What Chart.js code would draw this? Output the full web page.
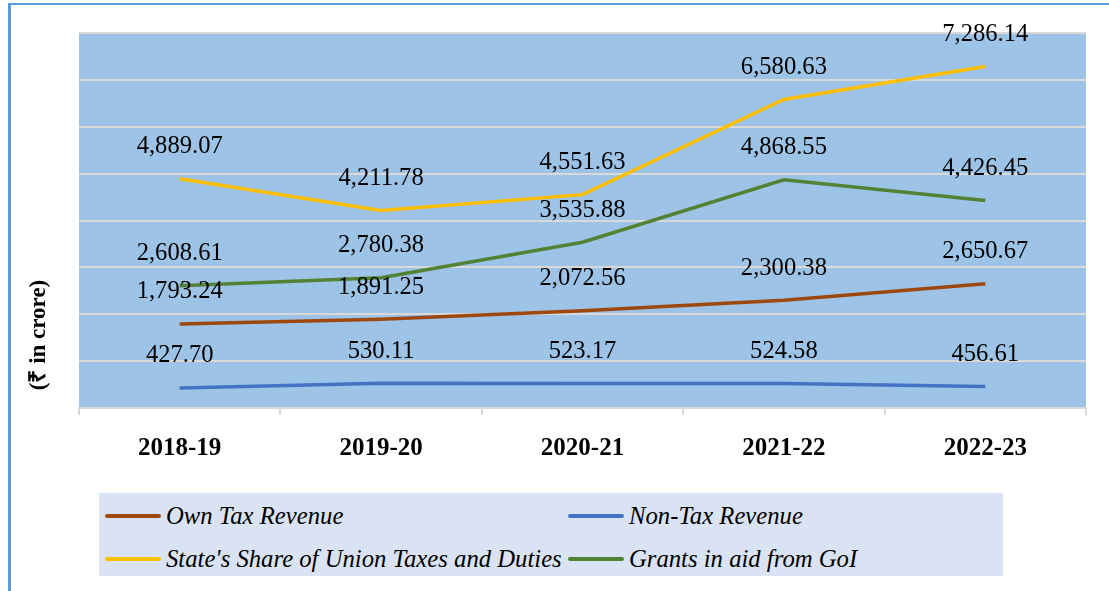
<!DOCTYPE html>
<html>
<head>
<meta charset="utf-8">
<script src="https://cdn.jsdelivr.net/npm/chart.js@4.4.0/dist/chart.umd.min.js"></script>
<style>
  html, body { margin: 0; padding: 0; background: #fff; overflow: hidden; }
  #wrap { position: relative; width: 1109px; height: 591px; }
  #frame {
    position: absolute; left: 8px; top: 3px; width: 1110px; height: 586px;
    border-left: 3px solid #5B9BD5; border-top: 2px solid #5B9BD5;
    border-bottom: 1px solid #9DC3E6;
  }
  #myChart { position: absolute; left: 0; top: 0; }
  #legend {
    position: absolute; left: 99px; top: 493px; width: 904px; height: 83px;
    background: #DAE3F3;
    font-family: "Liberation Serif", "Times New Roman", serif;
    font-style: italic; font-size: 24.7px; color: #000;
  }
  .item { position: absolute; height: 30px; display: flex; align-items: center; white-space: nowrap; }
  .item span.mark { display: inline-block; width: 56px; height: 3.5px; margin-right: 5px; border-radius: 2px; }
</style>
</head>
<body>
<div id="wrap">
  <div id="frame"></div>
  <canvas id="myChart" width="1109" height="591"></canvas>
  <div id="legend"></div>
</div>
<script>
// Años
var years = ['2018-19', '2019-20', '2020-21', '2021-22', '2022-23'];

// Valores (₹ en crore)
var ownTax = [1793.24, 1891.25, 2072.56, 2300.38, 2650.67];
var nonTax = [427.70, 530.11, 523.17, 524.58, 456.61];
var stateShare = [4889.07, 4211.78, 4551.63, 6580.63, 7286.14];
var grants = [2608.61, 2780.38, 3535.88, 4868.55, 4426.45];

var seriesNames = ['Own Tax Revenue', 'Non-Tax Revenue', "State's Share of Union Taxes and Duties", 'Grants in aid from GoI'];
var seriesColors = ['#9E480E', '#4472C4', '#FFC000', '#548235'];

var serif = '"Liberation Serif", "Times New Roman", serif';

function serie(i, data) {
    return {
        label: seriesNames[i],
        data: data,
        borderColor: seriesColors[i],
        backgroundColor: seriesColors[i],
        borderWidth: 3.5,
        pointRadius: 0,
        tension: 0,
        fill: false
    };
}

// Fondo azul del área del gráfico
var fondo = {
    id: 'fondo',
    beforeDraw: function (chart) {
        var a = chart.chartArea, c = chart.ctx;
        c.save();
        c.fillStyle = '#9DC3E6';
        c.fillRect(a.left, a.top, a.right - a.left, a.bottom - a.top);
        c.restore();
    }
};

// Etiquetas de valores sobre cada punto
var etiquetas = {
    id: 'etiquetas',
    afterDatasetsDraw: function (chart) {
        var c = chart.ctx;
        c.save();
        c.font = '24.6px ' + serif;
        c.fillStyle = '#000';
        c.textAlign = 'center';
        c.textBaseline = 'middle';
        chart.data.datasets.forEach(function (ds, i) {
            chart.getDatasetMeta(i).data.forEach(function (pt, j) {
                var txt = ds.data[j].toLocaleString('en-US', { minimumFractionDigits: 2, maximumFractionDigits: 2 });
                c.fillText(txt, pt.x, pt.y - 32);
            });
        });
        c.restore();
    }
};

// Título del eje Y
var tituloY = {
    id: 'tituloY',
    afterDraw: function (chart) {
        var c = chart.ctx;
        c.save();
        c.translate(39, 335);
        c.rotate(-Math.PI / 2);
        c.font = 'bold 23px ' + serif;
        c.fillStyle = '#000';
        c.textAlign = 'center';
        c.textBaseline = 'middle';
        c.fillText('(₹ in crore)', 0, 0);
        c.restore();
    }
};

var ctx = document.getElementById('myChart').getContext('2d');

var config = {
    type: 'line',
    data: {
        labels: years,
        datasets: [serie(0, ownTax), serie(1, nonTax), serie(2, stateShare), serie(3, grants)]
    },
    options: {
        responsive: false,
        animation: false,
        layout: { padding: { left: 0, right: 23, top: 33, bottom: 0 } },
        plugins: {
            legend: { display: false },
            tooltip: { enabled: false }
        },
        scales: {
            x: {
                offset: true,
                grid: { offset: true, drawOnChartArea: false, drawTicks: true, tickLength: 7, color: '#D9D9D9', lineWidth: 2 },
                border: { color: '#D9D9D9', width: 2 },
                ticks: { color: '#000', padding: 19, font: { family: serif, size: 25, weight: 'bold' } },
                afterFit: function (scale) { scale.height = 183; }
            },
            y: {
                min: 0,
                max: 8000,
                ticks: { stepSize: 1000, display: false },
                grid: { color: '#D9D9D9', lineWidth: 2, drawTicks: false },
                border: { display: false },
                afterFit: function (scale) { scale.width = 79; }
            }
        }
    },
    plugins: [fondo, etiquetas, tituloY]
};

var myChart = new Chart(ctx, config);

// Leyenda en dos columnas
var legend = document.getElementById('legend');
var posiciones = [[6, 8], [469, 8], [6, 51], [469, 51]];
myChart.data.datasets.forEach(function (ds, i) {
    var item = document.createElement('div');
    item.className = 'item';
    item.style.left = posiciones[i][0] + 'px';
    item.style.top = posiciones[i][1] + 'px';
    var mark = document.createElement('span');
    mark.className = 'mark';
    mark.style.background = ds.borderColor;
    var txt = document.createElement('span');
    txt.textContent = ds.label;
    item.appendChild(mark);
    item.appendChild(txt);
    legend.appendChild(item);
});
</script>
</body>
</html>
